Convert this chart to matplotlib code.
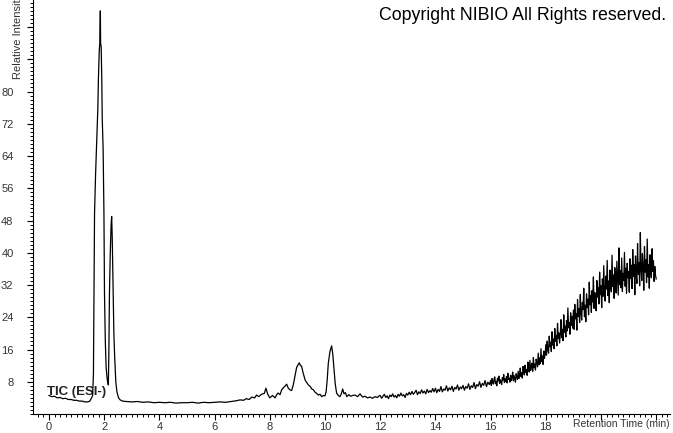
import numpy as np
import matplotlib
matplotlib.use("Agg")
import matplotlib.pyplot as plt
from matplotlib.ticker import MultipleLocator

# -------------------------------------------------------------
# Chromatogram values (min, % intensity)
# -------------------------------------------------------------

t_early = [0.0, 0.1, 0.2, 0.3, 0.4, 0.5, 0.6, 0.7, 0.8, 0.9, 1.0, 1.1, 1.2, 1.3, 1.4,
           1.48, 1.54, 1.58, 1.61, 1.63, 1.65, 1.69, 1.74, 1.77, 1.79, 1.82, 1.84, 1.86,
           1.87, 1.89, 1.91, 1.93, 1.96, 1.99, 2.01, 2.04, 2.07, 2.11, 2.15, 2.17, 2.19,
           2.22, 2.25, 2.27, 2.29, 2.31, 2.33, 2.35, 2.38, 2.42, 2.46, 2.52, 2.58, 2.66,
           2.8, 3.0, 3.2, 3.4, 3.6, 3.8, 4.0, 4.2, 4.4, 4.6, 4.8, 5.0, 5.2, 5.4, 5.6, 5.8,
           6.0, 6.2, 6.4, 6.6, 6.8, 6.92, 7.05, 7.15, 7.25, 7.35, 7.45, 7.52, 7.6, 7.7,
           7.8, 7.86, 7.92, 8.0, 8.1, 8.19, 8.25, 8.3, 8.37, 8.43, 8.5, 8.55, 8.61, 8.67,
           8.73, 8.79, 8.85, 8.91, 8.97, 9.02, 9.07, 9.11, 9.15, 9.2, 9.28, 9.34, 9.4,
           9.47, 9.52, 9.58, 9.64, 9.7, 9.76, 9.82, 9.88, 9.94, 10.0, 10.04, 10.08, 10.12,
           10.18, 10.24, 10.28, 10.33, 10.37, 10.42, 10.48, 10.54, 10.59, 10.64, 10.69,
           10.74, 10.79, 10.86, 10.93, 11.0, 11.09, 11.18, 11.27, 11.36, 11.45, 11.54,
           11.63, 11.72, 11.81, 11.9, 11.96]
i_early = [4.6, 4.3, 4.4, 4.0, 4.1, 3.8, 3.9, 3.6, 3.6, 3.4, 3.4, 3.2, 3.2, 3.0, 3.0,
           3.2, 4.0, 4.5, 10.0, 30.0, 50.0, 60.0, 70.0, 76.0, 83.0, 90.0, 92.0, 100.0,
           92.0, 91.0, 84.0, 73.0, 66.0, 50.0, 30.0, 18.0, 11.5, 8.5, 7.2, 16.0, 30.0,
           40.0, 47.0, 49.0, 44.0, 36.0, 28.0, 20.0, 14.0, 8.0, 5.5, 4.0, 3.5, 3.2,
           3.1, 3.0, 3.1, 2.9, 3.0, 2.8, 2.9, 2.8, 2.9, 2.7, 2.8, 2.8, 2.9, 2.7, 2.9, 2.8,
           2.9, 3.0, 2.9, 3.1, 3.3, 3.5, 3.4, 3.8, 3.6, 4.2, 4.0, 4.7, 4.3, 4.9,
           5.1, 6.4, 5.0, 4.0, 4.6, 4.0, 4.8, 5.2, 4.8, 6.0, 6.6, 6.9, 7.4, 6.4,
           6.0, 5.8, 7.2, 9.3, 11.5, 12.2, 12.7, 12.0, 11.9, 10.4, 8.4, 7.8, 7.2,
           6.8, 6.2, 6.0, 5.4, 5.1, 4.7, 4.9, 4.3, 4.6, 4.5, 5.5, 8.5, 12.6,
           15.5, 16.9, 15.0, 11.0, 7.5, 5.2, 4.6, 4.3, 5.0, 6.2, 5.0,
           5.3, 4.3, 4.8, 4.4, 4.6, 4.7, 4.3, 5.0, 4.2, 4.4, 4.0,
           4.2, 3.9, 4.3, 4.1, 4.5]

# slow rise, one value every 0.05 min from 12.00 to 15.95
t_mid = np.linspace(12.0, 15.95, 80)
i_mid = [
    4.6, 3.9, 4.4, 4.9, 4.1, 4.5, 3.8, 4.7, 4.3, 5.0, 4.2, 4.6, 4.0, 4.9, 4.4, 5.2, 4.5, 4.8, 4.1, 5.1,
    4.7, 5.4, 4.8, 5.6, 4.9, 5.3, 5.9, 4.8, 5.5, 5.1, 6.0, 5.2, 5.7, 5.0, 6.1, 5.3, 5.8, 5.4, 6.3, 5.5,
    6.4, 5.3, 6.1, 5.6, 6.8, 5.5, 6.2, 5.9, 7.0, 5.7, 6.5, 6.0, 6.9, 5.6, 6.6, 6.2, 7.2, 5.9, 6.7, 6.3,
    7.1, 5.9, 6.8, 6.4, 7.5, 6.1, 7.0, 6.6, 7.8, 6.3, 7.3, 6.9, 8.0, 6.6, 7.6, 7.1, 8.3, 6.8, 7.9, 7.3,
]

# noisy gradient region, one value every 0.025 min from 16.00 to 22.00
t_late = np.linspace(16.0, 22.0, 241)
i_late = [
    8.3, 7.1, 8.8, 7.9, 7.4, 8.6, 9.2, 7.5, 8.1, 7.0, 8.9, 8.2, 9.4, 7.6, 8.5, 8.0, 7.3, 9.0, 8.4, 9.8,
    7.8, 8.7, 8.1, 9.3, 7.7, 10.1, 8.6, 8.9, 7.9, 9.6, 8.3, 9.1, 10.4, 8.2, 9.5, 8.8, 7.9, 10.0, 9.2, 8.6,
    10.6, 8.8, 9.9, 11.4, 9.3, 10.2, 8.9, 11.8, 10.5, 9.7, 12.1, 10.3, 11.0, 9.6, 12.9, 11.2, 10.4, 13.3, 10.8, 11.9,
    12.6, 10.6, 14.0, 11.5, 12.4, 10.9, 13.6, 12.8, 11.7, 15.1, 12.2, 13.9, 12.5, 16.2, 13.0, 14.4, 12.3, 15.6, 13.8, 14.7,
    17.2, 14.6, 18.1, 16.0, 15.1, 19.3, 16.7, 17.8, 15.5, 20.4, 17.1, 18.6, 16.2, 21.2, 18.0, 19.4, 16.9, 22.5, 18.7, 20.1,
    17.6, 19.8, 23.4, 18.9, 21.0, 18.2, 24.6, 20.3, 21.8, 19.1, 23.2, 20.6, 26.3, 21.4, 22.7, 19.8, 25.1, 22.0, 24.2, 21.3,
    25.8, 21.0, 27.2, 23.6, 24.9, 20.8, 28.4, 24.2, 26.1, 22.7, 29.6, 25.0, 23.3, 27.7, 25.9, 31.2, 24.1, 27.0, 22.9, 29.8,
    26.4, 28.5, 24.6, 32.7, 27.1, 29.3, 25.2, 30.6, 27.8, 34.0, 26.2, 30.1, 28.4, 25.6, 33.1, 29.0, 31.4, 27.3, 35.2, 29.6,
    31.8, 26.4, 33.5, 29.2, 36.8, 30.1, 28.0, 34.2, 31.0, 38.1, 29.4, 33.0, 27.6, 35.7, 32.2, 30.3, 39.4, 31.6, 34.5, 28.7,
    36.3, 32.8, 30.0, 37.9, 33.4, 29.5, 41.2, 32.1, 35.6, 31.3, 38.7, 30.4, 34.9, 33.2, 40.1, 31.7, 36.2, 29.9, 37.4, 33.8,
    35.3, 30.2, 38.5, 33.6, 36.9, 31.1, 40.8, 34.2, 37.1, 29.6, 39.2, 35.0, 32.4, 42.3, 34.7, 37.6, 31.8, 45.0, 35.9, 33.1,
    39.8, 36.4, 30.7, 41.5, 35.2, 38.3, 32.6, 43.4, 34.0, 37.0, 31.2, 39.5, 36.1, 33.8, 41.0, 35.4, 38.0, 32.9, 36.6, 34.4,
    33.5,
]

x_ticks = [0, 2, 4, 6, 8, 10, 12, 14, 16, 18, 20, 22]
x_labels = ["0", "2", "4", "6", "8", "10", "12", "14", "16", "18", "", ""]
y_ticks = [8, 16, 24, 32, 40, 48, 56, 64, 72, 80, 88, 96]
y_labels = ["8", "16", "24", "32", "40", "48", "56", "64", "72", "80", "", ""]


def main():
    plt.rcParams['font.family'] = ['Liberation Sans', 'DejaVu Sans']

    t = np.concatenate([t_early, t_mid, t_late])
    inten = np.concatenate([i_early, i_mid, i_late])

    fig = plt.figure(figsize=(6.73, 4.33), dpi=100)
    ax = fig.add_axes([33 / 673, 19 / 433, 637 / 673, 414 / 433])

    ax.plot(t, inten, color='black', lw=0.9)

    ax.set_xlim(-0.58, 22.5)
    ax.set_ylim(0, 102.7)

    # -------------------------------------------------------------
    # Axes styling: only left/bottom spines, outward ticks
    # -------------------------------------------------------------
    for side in ['top', 'right']:
        ax.spines[side].set_visible(False)
    for side in ['left', 'bottom']:
        ax.spines[side].set_linewidth(0.8)

    ax.set_xticks(x_ticks)
    ax.set_xticklabels(x_labels)
    ax.set_yticks(y_ticks)
    ax.set_yticklabels(y_labels)
    ax.xaxis.set_minor_locator(MultipleLocator(0.2))
    ax.yaxis.set_minor_locator(MultipleLocator(1))
    ax.tick_params(axis='both', which='major', length=4, width=0.8, labelsize=8,
                   colors='black', labelcolor='#333333')
    ax.tick_params(axis='both', which='minor', length=2, width=0.7)
    ax.tick_params(axis='x', which='major', pad=2)
    ax.tick_params(axis='y', which='major', pad=10)

    # -------------------------------------------------------------
    # Texts
    # -------------------------------------------------------------
    ax.text(-0.07, 5.5, "TIC (ESI-)", fontsize=9.5, fontweight='bold', ha='left',
            va='center', color='#222222', zorder=1)
    fig.text(670 / 673, 1 - 424 / 433, "Retention Time (min)", fontsize=7.5,
             ha='right', va='center', color='#333333')
    fig.text(18 / 673, 1 - 79 / 433, "Relative Intensity", fontsize=8,
             rotation=90, ha='center', va='bottom', color='#333333')
    fig.text(666 / 673, 1 - 16 / 433, "Copyright NIBIO All Rights reserved.",
             fontsize=12.8, ha='right', va='center', color='black')

    fig.savefig("out.png", dpi=100)


if __name__ == "__main__":
    main()
